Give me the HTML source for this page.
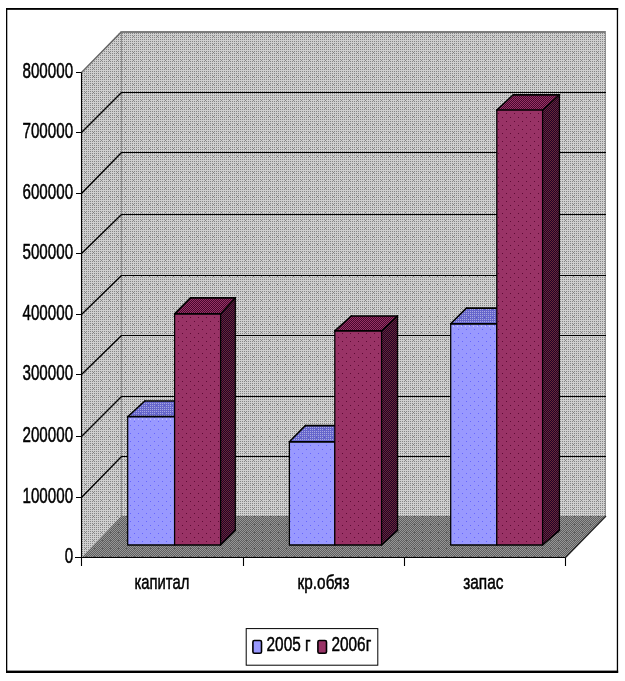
<!DOCTYPE html>
<html lang="ru"><head><meta charset="utf-8"><title>Диаграмма</title>
<style>html,body{margin:0;padding:0;background:#fff}body{width:625px;height:681px;overflow:hidden}svg{display:block}text{font-family:"Liberation Sans",Arial,sans-serif;fill:#000}</style></head><body>
<svg width="625" height="681" viewBox="0 0 625 681">
<defs>
<pattern id="pw" width="8" height="8" patternUnits="userSpaceOnUse" shape-rendering="crispEdges"><rect width="8" height="8" fill="#cfcfcf"/><rect x="0" y="1" width="1" height="1" fill="#868686"/><rect x="0" y="3" width="1" height="1" fill="#868686"/><rect x="0" y="5" width="1" height="1" fill="#868686"/><rect x="0" y="7" width="1" height="1" fill="#868686"/><rect x="2" y="1" width="1" height="1" fill="#868686"/><rect x="2" y="3" width="1" height="1" fill="#868686"/><rect x="2" y="5" width="1" height="1" fill="#868686"/><rect x="2" y="7" width="1" height="1" fill="#868686"/><rect x="4" y="1" width="1" height="1" fill="#868686"/><rect x="4" y="3" width="1" height="1" fill="#868686"/><rect x="4" y="5" width="1" height="1" fill="#868686"/><rect x="4" y="7" width="1" height="1" fill="#868686"/><rect x="6" y="1" width="1" height="1" fill="#868686"/><rect x="6" y="3" width="1" height="1" fill="#868686"/><rect x="6" y="5" width="1" height="1" fill="#868686"/><rect x="6" y="7" width="1" height="1" fill="#868686"/><rect x="5" y="4" width="1" height="1" fill="#868686"/></pattern>
<pattern id="pf" width="8" height="8" patternUnits="userSpaceOnUse" shape-rendering="crispEdges"><rect width="8" height="8" fill="#969696"/><rect x="0" y="1" width="1" height="1" fill="#5f5f5f"/><rect x="0" y="3" width="1" height="1" fill="#5f5f5f"/><rect x="0" y="5" width="1" height="1" fill="#5f5f5f"/><rect x="0" y="7" width="1" height="1" fill="#5f5f5f"/><rect x="1" y="0" width="1" height="1" fill="#5f5f5f"/><rect x="1" y="2" width="1" height="1" fill="#5f5f5f"/><rect x="1" y="4" width="1" height="1" fill="#5f5f5f"/><rect x="1" y="6" width="1" height="1" fill="#5f5f5f"/><rect x="2" y="1" width="1" height="1" fill="#5f5f5f"/><rect x="2" y="3" width="1" height="1" fill="#5f5f5f"/><rect x="2" y="5" width="1" height="1" fill="#5f5f5f"/><rect x="2" y="7" width="1" height="1" fill="#5f5f5f"/><rect x="3" y="0" width="1" height="1" fill="#5f5f5f"/><rect x="3" y="2" width="1" height="1" fill="#5f5f5f"/><rect x="3" y="4" width="1" height="1" fill="#5f5f5f"/><rect x="3" y="6" width="1" height="1" fill="#5f5f5f"/><rect x="4" y="1" width="1" height="1" fill="#5f5f5f"/><rect x="4" y="3" width="1" height="1" fill="#5f5f5f"/><rect x="4" y="5" width="1" height="1" fill="#5f5f5f"/><rect x="4" y="7" width="1" height="1" fill="#5f5f5f"/><rect x="5" y="0" width="1" height="1" fill="#5f5f5f"/><rect x="5" y="2" width="1" height="1" fill="#5f5f5f"/><rect x="5" y="4" width="1" height="1" fill="#5f5f5f"/><rect x="5" y="6" width="1" height="1" fill="#5f5f5f"/><rect x="6" y="1" width="1" height="1" fill="#5f5f5f"/><rect x="6" y="3" width="1" height="1" fill="#5f5f5f"/><rect x="6" y="5" width="1" height="1" fill="#5f5f5f"/><rect x="6" y="7" width="1" height="1" fill="#5f5f5f"/><rect x="7" y="0" width="1" height="1" fill="#5f5f5f"/><rect x="7" y="2" width="1" height="1" fill="#5f5f5f"/><rect x="7" y="4" width="1" height="1" fill="#5f5f5f"/><rect x="7" y="6" width="1" height="1" fill="#5f5f5f"/><rect x="6" y="4" width="1" height="1" fill="#5f5f5f"/></pattern>
<pattern id="pb" width="8" height="8" patternUnits="userSpaceOnUse" shape-rendering="crispEdges"><rect width="8" height="8" fill="#9999ff"/><rect x="6" y="5" width="1" height="1" fill="#6666ff"/><rect x="2" y="1" width="1" height="1" fill="#6666ff"/></pattern>
<pattern id="pr" width="8" height="8" patternUnits="userSpaceOnUse" shape-rendering="crispEdges"><rect width="8" height="8" fill="#993366"/><rect x="6" y="5" width="1" height="1" fill="#5e0a34"/><rect x="2" y="1" width="1" height="1" fill="#5e0a34"/></pattern>
<pattern id="prs" width="8" height="8" patternUnits="userSpaceOnUse" shape-rendering="crispEdges"><rect width="8" height="8" fill="#6b2a34"/><rect x="0" y="1" width="1" height="1" fill="#1e002c"/><rect x="0" y="3" width="1" height="1" fill="#1e002c"/><rect x="0" y="5" width="1" height="1" fill="#1e002c"/><rect x="0" y="7" width="1" height="1" fill="#1e002c"/><rect x="1" y="0" width="1" height="1" fill="#1e002c"/><rect x="1" y="2" width="1" height="1" fill="#1e002c"/><rect x="1" y="4" width="1" height="1" fill="#1e002c"/><rect x="1" y="6" width="1" height="1" fill="#1e002c"/><rect x="2" y="1" width="1" height="1" fill="#1e002c"/><rect x="2" y="3" width="1" height="1" fill="#1e002c"/><rect x="2" y="5" width="1" height="1" fill="#1e002c"/><rect x="2" y="7" width="1" height="1" fill="#1e002c"/><rect x="3" y="0" width="1" height="1" fill="#1e002c"/><rect x="3" y="2" width="1" height="1" fill="#1e002c"/><rect x="3" y="4" width="1" height="1" fill="#1e002c"/><rect x="3" y="6" width="1" height="1" fill="#1e002c"/><rect x="4" y="1" width="1" height="1" fill="#1e002c"/><rect x="4" y="3" width="1" height="1" fill="#1e002c"/><rect x="4" y="5" width="1" height="1" fill="#1e002c"/><rect x="4" y="7" width="1" height="1" fill="#1e002c"/><rect x="5" y="0" width="1" height="1" fill="#1e002c"/><rect x="5" y="2" width="1" height="1" fill="#1e002c"/><rect x="5" y="4" width="1" height="1" fill="#1e002c"/><rect x="5" y="6" width="1" height="1" fill="#1e002c"/><rect x="6" y="1" width="1" height="1" fill="#1e002c"/><rect x="6" y="3" width="1" height="1" fill="#1e002c"/><rect x="6" y="5" width="1" height="1" fill="#1e002c"/><rect x="6" y="7" width="1" height="1" fill="#1e002c"/><rect x="7" y="0" width="1" height="1" fill="#1e002c"/><rect x="7" y="2" width="1" height="1" fill="#1e002c"/><rect x="7" y="4" width="1" height="1" fill="#1e002c"/><rect x="7" y="6" width="1" height="1" fill="#1e002c"/></pattern>
<pattern id="prt" width="8" height="8" patternUnits="userSpaceOnUse" shape-rendering="crispEdges"><rect width="8" height="8" fill="#983466"/><rect x="0" y="1" width="1" height="1" fill="#48072e"/><rect x="0" y="3" width="1" height="1" fill="#48072e"/><rect x="0" y="5" width="1" height="1" fill="#48072e"/><rect x="0" y="7" width="1" height="1" fill="#48072e"/><rect x="1" y="0" width="1" height="1" fill="#48072e"/><rect x="1" y="2" width="1" height="1" fill="#48072e"/><rect x="1" y="4" width="1" height="1" fill="#48072e"/><rect x="1" y="6" width="1" height="1" fill="#48072e"/><rect x="2" y="1" width="1" height="1" fill="#48072e"/><rect x="2" y="3" width="1" height="1" fill="#48072e"/><rect x="2" y="5" width="1" height="1" fill="#48072e"/><rect x="2" y="7" width="1" height="1" fill="#48072e"/><rect x="3" y="0" width="1" height="1" fill="#48072e"/><rect x="3" y="2" width="1" height="1" fill="#48072e"/><rect x="3" y="4" width="1" height="1" fill="#48072e"/><rect x="3" y="6" width="1" height="1" fill="#48072e"/><rect x="4" y="1" width="1" height="1" fill="#48072e"/><rect x="4" y="3" width="1" height="1" fill="#48072e"/><rect x="4" y="5" width="1" height="1" fill="#48072e"/><rect x="4" y="7" width="1" height="1" fill="#48072e"/><rect x="5" y="0" width="1" height="1" fill="#48072e"/><rect x="5" y="2" width="1" height="1" fill="#48072e"/><rect x="5" y="4" width="1" height="1" fill="#48072e"/><rect x="5" y="6" width="1" height="1" fill="#48072e"/><rect x="6" y="1" width="1" height="1" fill="#48072e"/><rect x="6" y="3" width="1" height="1" fill="#48072e"/><rect x="6" y="5" width="1" height="1" fill="#48072e"/><rect x="6" y="7" width="1" height="1" fill="#48072e"/><rect x="7" y="0" width="1" height="1" fill="#48072e"/><rect x="7" y="2" width="1" height="1" fill="#48072e"/><rect x="7" y="4" width="1" height="1" fill="#48072e"/><rect x="7" y="6" width="1" height="1" fill="#48072e"/></pattern>
<pattern id="pbt" width="8" height="8" patternUnits="userSpaceOnUse" shape-rendering="crispEdges"><rect width="8" height="8" fill="#6666cc"/><rect x="0" y="1" width="1" height="1" fill="#a8a8e0"/><rect x="0" y="3" width="1" height="1" fill="#a8a8e0"/><rect x="0" y="5" width="1" height="1" fill="#a8a8e0"/><rect x="0" y="7" width="1" height="1" fill="#a8a8e0"/><rect x="2" y="1" width="1" height="1" fill="#a8a8e0"/><rect x="2" y="3" width="1" height="1" fill="#a8a8e0"/><rect x="2" y="5" width="1" height="1" fill="#a8a8e0"/><rect x="2" y="7" width="1" height="1" fill="#a8a8e0"/><rect x="4" y="1" width="1" height="1" fill="#a8a8e0"/><rect x="4" y="3" width="1" height="1" fill="#a8a8e0"/><rect x="4" y="7" width="1" height="1" fill="#a8a8e0"/><rect x="6" y="1" width="1" height="1" fill="#a8a8e0"/><rect x="6" y="3" width="1" height="1" fill="#a8a8e0"/><rect x="6" y="5" width="1" height="1" fill="#a8a8e0"/><rect x="6" y="7" width="1" height="1" fill="#a8a8e0"/></pattern>
</defs>
<rect width="625" height="681" fill="#fff"/>
<path d="M6.65 8.75H617.45V671.85H6.65Z" fill="none" stroke="#000" stroke-width="1.3"/>
<rect x="6" y="8" width="612.2" height="1.7" fill="#000"/>
<rect x="6" y="670.6" width="612.2" height="2.4" fill="#000"/>
<path d="M81.5 72.5L121.0 31.0V516.0L81.5 557.5Z" fill="url(#pw)"/>
<path d="M121.0 31.0H606.0V516.0H121.0Z" fill="url(#pw)"/>
<path d="M81.5 557.5L121.0 516.0H606.0L565.5 557.5Z" fill="url(#pf)"/>
<rect x="121.0" y="31.0" width="485.0" height="2" fill="#7d7d7d"/>
<path d="M121.5 31.0V516.0" stroke="#8e8e8e" stroke-width="1" fill="none"/>
<path d="M605.5 31.0V516.0" stroke="#909090" stroke-width="1" fill="none"/>
<path d="M81.5 72.5L121.5 31.8" stroke="#686868" stroke-width="1.5" fill="none"/>
<path d="M121.0 92.5H606.0M121.0 152.5H606.0M121.0 214.5H606.0M121.0 275.5H606.0M121.0 335.5H606.0M121.0 396.5H606.0M121.0 456.5H606.0" stroke="#000" stroke-width="1" fill="none"/>
<path d="M81.5 132.5L121.5 92.5M81.5 193.5L121.5 152.5M81.5 253.5L121.5 214.5M81.5 314.5L121.5 275.5M81.5 374.5L121.5 335.5M81.5 436.5L121.5 396.5M81.5 497.5L121.5 456.5" stroke="#000" stroke-width="1.35" fill="none"/>
<path d="M606.0 516.0L565.5 557.5" stroke="#222" stroke-width="1.3" fill="none"/>
<path d="M81.5 72.5V566.0" stroke="#000" stroke-width="1.1" fill="none"/>
<path d="M75.0 557.5H565.5" stroke="#000" stroke-width="1.2" fill="none"/>
<path d="M76.0 72.5H81.5M76.0 132.5H81.5M76.0 193.5H81.5M76.0 253.5H81.5M76.0 314.5H81.5M76.0 374.5H81.5M76.0 436.5H81.5M76.0 497.5H81.5M243.5 557.5V566.0M404.5 557.5V566.0M565.5 557.5V566.0" stroke="#000" stroke-width="1.1" fill="none"/>
<path d="M127.7 416.7L144.8 401.0H190.6L174.6 416.7Z" fill="url(#pbt)"/>
<path d="M127.7 416.7H174.6V545.0H127.7Z" fill="url(#pb)"/>
<path d="M130 419.2H173.6" stroke="#d4d4ff" stroke-width="1" stroke-dasharray="1 3" fill="none"/>
<path d="M127.2 416.7H175.1M127.2 545.0H175.1M144.4 401.0H191.1" stroke="#000" stroke-width="1.7" fill="none"/>
<path d="M127.7 416.7V545.0M174.6 416.7V545.0" stroke="#000" stroke-width="1.25" fill="none"/>
<path d="M127.7 416.7L144.8 401.0M174.6 416.7L190.6 401.0" stroke="#000" stroke-width="1.5" fill="none" stroke-linecap="square"/>
<path d="M289.4 441.8L305.3 425.6H350.8L334.8 441.8Z" fill="url(#pbt)"/>
<path d="M289.4 441.8H334.8V545.0H289.4Z" fill="url(#pb)"/>
<path d="M288.9 441.8H335.3M288.9 545.0H335.3M304.90000000000003 425.6H351.3" stroke="#000" stroke-width="1.7" fill="none"/>
<path d="M289.4 441.8V545.0M334.8 441.8V545.0" stroke="#000" stroke-width="1.25" fill="none"/>
<path d="M289.4 441.8L305.3 425.6M334.8 441.8L350.8 425.6" stroke="#000" stroke-width="1.5" fill="none" stroke-linecap="square"/>
<path d="M450.7 323.8L466.4 308.1H512.8L496.8 323.8Z" fill="url(#pbt)"/>
<path d="M450.7 323.8H496.8V545.0H450.7Z" fill="url(#pb)"/>
<path d="M453 326.3H495.8" stroke="#d4d4ff" stroke-width="1" stroke-dasharray="1 3" fill="none"/>
<path d="M450.2 323.8H497.3M450.2 545.0H497.3M466.0 308.1H513.3" stroke="#000" stroke-width="1.7" fill="none"/>
<path d="M450.7 323.8V545.0M496.8 323.8V545.0" stroke="#000" stroke-width="1.25" fill="none"/>
<path d="M450.7 323.8L466.4 308.1M496.8 323.8L512.8 308.1" stroke="#000" stroke-width="1.5" fill="none" stroke-linecap="square"/>
<path d="M174.6 313.9L190.4 297.9H235.3L220.6 313.9Z" fill="url(#prt)"/>
<path d="M220.6 313.9L235.3 297.9V530.4L220.6 545.0Z" fill="url(#prs)"/>
<path d="M174.6 313.9H220.6V545.0H174.6Z" fill="url(#pr)"/>
<path d="M174.1 313.9H221.1M174.1 545.0H221.1M190.0 297.9H235.8" stroke="#000" stroke-width="1.7" fill="none"/>
<path d="M174.6 313.9V545.0M220.6 313.9V545.0M235.3 297.9V530.4" stroke="#000" stroke-width="1.25" fill="none"/>
<path d="M174.6 313.9L190.4 297.9M220.6 313.9L235.3 297.9M220.6 545.0L235.3 530.4" stroke="#000" stroke-width="1.5" fill="none" stroke-linecap="square"/>
<path d="M334.8 330.9L351.3 316.0H397.5L381.6 330.9Z" fill="url(#prt)"/>
<path d="M381.6 330.9L397.5 316.0V530.4L381.6 545.0Z" fill="url(#prs)"/>
<path d="M334.8 330.9H381.6V545.0H334.8Z" fill="url(#pr)"/>
<path d="M334.3 330.9H382.1M334.3 545.0H382.1M350.90000000000003 316.0H398.0" stroke="#000" stroke-width="1.7" fill="none"/>
<path d="M334.8 330.9V545.0M381.6 330.9V545.0M397.5 316.0V530.4" stroke="#000" stroke-width="1.25" fill="none"/>
<path d="M334.8 330.9L351.3 316.0M381.6 330.9L397.5 316.0M381.6 545.0L397.5 530.4" stroke="#000" stroke-width="1.5" fill="none" stroke-linecap="square"/>
<path d="M496.8 110.0L513.2 94.8H559.4L542.6 110.0Z" fill="url(#prt)"/>
<path d="M542.6 110.0L559.4 94.8V530.4L542.6 545.0Z" fill="url(#prs)"/>
<path d="M496.8 110.0H542.6V545.0H496.8Z" fill="url(#pr)"/>
<path d="M496.3 110.0H543.1M496.3 545.0H543.1M512.8000000000001 94.8H559.9" stroke="#000" stroke-width="1.7" fill="none"/>
<path d="M496.8 110.0V545.0M542.6 110.0V545.0M559.4 94.8V530.4" stroke="#000" stroke-width="1.25" fill="none"/>
<path d="M496.8 110.0L513.2 94.8M542.6 110.0L559.4 94.8M542.6 545.0L559.4 530.4" stroke="#000" stroke-width="1.5" fill="none" stroke-linecap="square"/>
<text transform="translate(73.10 77.8) scale(0.7060 1)" font-size="21.5" text-anchor="end" stroke="#000" stroke-width="0.5">800000</text>
<text transform="translate(73.10 137.8) scale(0.7060 1)" font-size="21.5" text-anchor="end" stroke="#000" stroke-width="0.5">700000</text>
<text transform="translate(73.10 198.8) scale(0.7060 1)" font-size="21.5" text-anchor="end" stroke="#000" stroke-width="0.5">600000</text>
<text transform="translate(73.10 258.8) scale(0.7060 1)" font-size="21.5" text-anchor="end" stroke="#000" stroke-width="0.5">500000</text>
<text transform="translate(73.10 319.8) scale(0.7060 1)" font-size="21.5" text-anchor="end" stroke="#000" stroke-width="0.5">400000</text>
<text transform="translate(73.10 379.8) scale(0.7060 1)" font-size="21.5" text-anchor="end" stroke="#000" stroke-width="0.5">300000</text>
<text transform="translate(73.10 441.8) scale(0.7060 1)" font-size="21.5" text-anchor="end" stroke="#000" stroke-width="0.5">200000</text>
<text transform="translate(73.10 502.8) scale(0.7060 1)" font-size="21.5" text-anchor="end" stroke="#000" stroke-width="0.5">100000</text>
<text transform="translate(73.10 562.8) scale(0.7060 1)" font-size="21.5" text-anchor="end" stroke="#000" stroke-width="0.5">0</text>
<text transform="translate(134.49 589.0) scale(0.7309 1)" font-size="20.3" text-anchor="start" stroke="#000" stroke-width="0.5">капитал</text>
<text transform="translate(297.62 589.0) scale(0.7560 1)" font-size="20.3" text-anchor="start" stroke="#000" stroke-width="0.5">кр.обяз</text>
<text transform="translate(463.17 589.0) scale(0.7599 1)" font-size="20.3" text-anchor="start" stroke="#000" stroke-width="0.5">запас</text>
<rect x="246.2" y="628.6" width="131.6" height="36.6" fill="#fff" stroke="#000" stroke-width="1"/>
<rect x="252.9" y="640.5" width="8.6" height="12.8" rx="1.5" fill="#9999ff" stroke="#000" stroke-width="1.6"/>
<rect x="317.9" y="640.5" width="8.6" height="12.8" rx="1.5" fill="#993366" stroke="#000" stroke-width="1.6"/>
<text transform="translate(266.56 651.3) scale(0.7497 1)" font-size="20.5" text-anchor="start" stroke="#000" stroke-width="0.5">2005 г</text>
<text transform="translate(331.49 651.3) scale(0.7495 1)" font-size="20.5" text-anchor="start" stroke="#000" stroke-width="0.5">2006г</text>
</svg></body></html>
